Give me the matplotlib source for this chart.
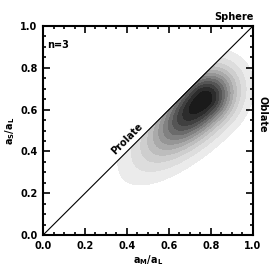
import numpy as np
import matplotlib
matplotlib.use('Agg')
import matplotlib.pyplot as plt

# peak of the axis-ratio distribution
peak_xy = [0.765, 0.648]
major_angle_deg = 45.0
sigma_major_low = 0.22   # long tail toward lower left
sigma_major_high = 0.11
sigma_minor = 0.085

# contour levels (fraction of peak) and their grey shades
levels = [0.05, 0.12, 0.20, 0.28, 0.36, 0.44, 0.52, 0.60, 0.68, 0.76, 0.84, 0.92, 1.01]
greys = ['#ebebeb', '#dddddd', '#cecece', '#bdbdbd', '#aaaaaa', '#969696',
         '#818181', '#6b6b6b', '#555555', '#404040', '#2c2c2c', '#1a1a1a']

ticks = [0.0, 0.2, 0.4, 0.6, 0.8, 1.0]
tick_labels = ['0.0', '0.2', '0.4', '0.6', '0.8', '1.0']

xg = np.linspace(0, 1, 400)
yg = np.linspace(0, 1, 400)
X, Y = np.meshgrid(xg, yg)
th = np.radians(major_angle_deg)
u = (X - peak_xy[0]) * np.cos(th) + (Y - peak_xy[1]) * np.sin(th)
v = -(X - peak_xy[0]) * np.sin(th) + (Y - peak_xy[1]) * np.cos(th)
su = np.where(u < 0, sigma_major_low, sigma_major_high)
Z = np.exp(-0.5 * ((u / su) ** 2 + (v / sigma_minor) ** 2))
Z[Y > X] = 0

fig = plt.figure(figsize=(2.74, 2.74), dpi=100)
ax = fig.add_axes([0.157, 0.142, 0.766, 0.763])
ax.contourf(X, Y, Z, levels=levels, colors=greys)
ax.plot([0, 1], [0, 1], color='black', lw=0.8)

ax.set_xlim(0, 1)
ax.set_ylim(0, 1)
ax.set_xticks(ticks)
ax.set_yticks(ticks)
ax.set_xticklabels(tick_labels)
ax.set_yticklabels(tick_labels)
ax.set_xticks(np.arange(0, 1.0001, 0.05), minor=True)
ax.set_yticks(np.arange(0, 1.0001, 0.05), minor=True)
ax.tick_params(which='both', direction='in', top=True, right=True,
               labelsize=7, width=1.2, pad=4)
ax.tick_params(which='major', length=5)
ax.tick_params(which='minor', length=2.5)
for lab in ax.get_xticklabels() + ax.get_yticklabels():
    lab.set_fontweight('bold')
for s in ax.spines.values():
    s.set_linewidth(1.5)

ax.set_xlabel(r'a$_\mathbf{M}$/a$_\mathbf{L}$', fontsize=7, fontweight='bold', labelpad=2)
ax.set_ylabel(r'a$_\mathbf{S}$/a$_\mathbf{L}$', fontsize=7, fontweight='bold', labelpad=2)

ax.text(0.02, 0.91, 'n=3', fontsize=7, fontweight='bold', transform=ax.transAxes, va='center')
ax.text(0.91, 1.02, 'Sphere', fontsize=7, fontweight='bold', ha='center', va='bottom',
        transform=ax.transAxes)
ax.text(0.40, 0.46, 'Prolate', fontsize=7, fontweight='bold', rotation=45,
        ha='center', va='center')
ax.text(1.045, 0.58, 'Oblate', fontsize=7, fontweight='bold', rotation=-90,
        ha='center', va='center', transform=ax.transAxes)

fig.savefig('out.png', dpi=100)
